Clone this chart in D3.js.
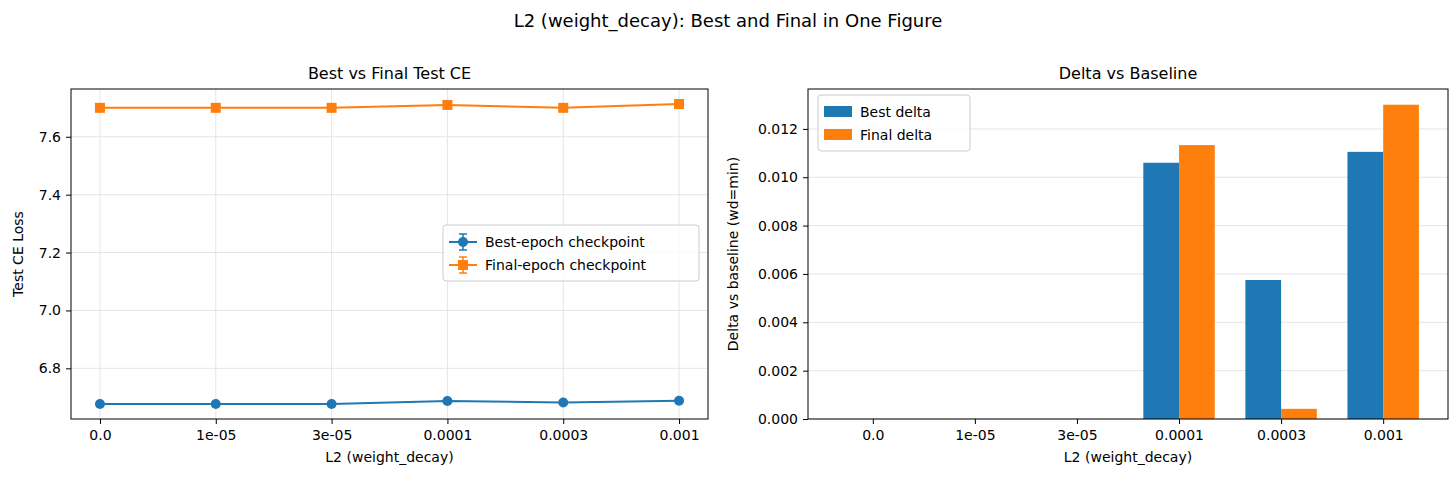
<!DOCTYPE html>
<html><head><meta charset="utf-8">
<script src="https://cdn.jsdelivr.net/npm/d3@7"></script>
<style>body{margin:0;background:#fff}text{font-family:"DejaVu Sans",sans-serif;fill:#000}</style>
</head><body>
<script>
const categories = ["0.0", "1e-05", "3e-05", "0.0001", "0.0003", "0.001"];
const bestCE = [6.677, 6.677, 6.677, 6.687, 6.682, 6.688];
const finalCE = [7.700, 7.700, 7.700, 7.710, 7.700, 7.713];
const ceErr = [0.004, 0.004, 0.004, 0.004, 0.004, 0.004];
const bestDelta = [0, 0, 0, 0.0106, 0.00575, 0.01105];
const finalDelta = [0, 0, 0, 0.01133, 0.00042, 0.0130];
const leftTicks = [6.8, 7.0, 7.2, 7.4, 7.6];
const rightTicks = [0, 0.002, 0.004, 0.006, 0.008, 0.010, 0.012];

const blue = "#1f77b4", orange = "#ff7f0e";
const W = 1456, H = 485;
const svg = d3.select("body").append("svg").attr("width", W).attr("height", H);

svg.append("text").attr("x", W / 2).attr("y", 27).attr("text-anchor", "middle")
  .attr("font-size", 18).text("L2 (weight_decay): Best and Final in One Figure");

function frame(g, x0, x1, y0, y1, title, ylabel, y, ticks, fmt) {
  g.append("g").selectAll("line").data(ticks).join("line")
    .attr("x1", x0).attr("x2", x1).attr("y1", d => y(d)).attr("y2", d => y(d))
    .attr("stroke", "#e5e5e5");
  const ay = g.append("g").attr("transform", `translate(${x0},0)`)
    .call(d3.axisLeft(y).tickValues(ticks).tickFormat(fmt).tickSize(5).tickPadding(5));
  ay.select(".domain").remove();
  ay.selectAll("text").attr("font-size", 14).attr("font-family", "DejaVu Sans");
  g.append("text").attr("x", (x0 + x1) / 2).attr("y", y0 - 10).attr("text-anchor", "middle")
    .attr("font-size", 16).text(title);
  g.append("text").attr("x", (x0 + x1) / 2).attr("y", y1 + 43).attr("text-anchor", "middle")
    .attr("font-size", 14).text("L2 (weight_decay)");
  g.append("text").attr("transform", `translate(${x0 - (ylabel.length > 20 ? 70 : 48)},${(y0 + y1) / 2}) rotate(-90)`)
    .attr("text-anchor", "middle").attr("font-size", 14).text(ylabel);
}
function xAxis(g, x, y1) {
  const ax = g.append("g").attr("transform", `translate(0,${y1})`)
    .call(d3.axisBottom(x).tickValues(d3.range(categories.length)).tickFormat(i => categories[i]).tickSize(5).tickPadding(6));
  ax.select(".domain").remove();
  ax.selectAll("text").attr("font-size", 14).attr("font-family", "DejaVu Sans");
}
function border(g, x0, x1, y0, y1) {
  g.append("rect").attr("x", x0).attr("y", y0).attr("width", x1 - x0).attr("height", y1 - y0)
    .attr("fill", "none").attr("stroke", "#000").attr("stroke-width", 1);
}

// left panel
{
  const x0 = 71, x1 = 708, y0 = 89, y1 = 419;
  const g = svg.append("g");
  const x = d3.scaleLinear().domain([-0.25, 5.25]).range([x0, x1]);
  const y = d3.scaleLinear().domain([6.625, 7.765]).range([y1, y0]);
  d3.range(categories.length).forEach(i => g.append("line").attr("x1", x(i)).attr("x2", x(i))
    .attr("y1", y0).attr("y2", y1).attr("stroke", "#e5e5e5"));
  frame(g, x0, x1, y0, y1, "Best vs Final Test CE", "Test CE Loss", y, leftTicks, d3.format(".1f"));
  xAxis(g, x, y1);
  [[bestCE, blue, "circle"], [finalCE, orange, "square"]].forEach(([vals, c, shape]) => {
    g.append("path").datum(vals).attr("fill", "none").attr("stroke", c).attr("stroke-width", 2)
      .attr("d", d3.line().x((d, i) => x(i)).y(d => y(d)));
    vals.forEach((v, i) => {
      const e = ceErr[i];
      g.append("line").attr("x1", x(i)).attr("x2", x(i)).attr("y1", y(v - e)).attr("y2", y(v + e)).attr("stroke", c).attr("stroke-width", 1.5);
      [v - e, v + e].forEach(t => g.append("line").attr("x1", x(i) - 4).attr("x2", x(i) + 4).attr("y1", y(t)).attr("y2", y(t)).attr("stroke", c).attr("stroke-width", 1.5));
      if (shape === "circle") g.append("circle").attr("cx", x(i)).attr("cy", y(v)).attr("r", 5).attr("fill", c);
      else g.append("rect").attr("x", x(i) - 5).attr("y", y(v) - 5).attr("width", 10).attr("height", 10).attr("fill", c);
    });
  });
  border(g, x0, x1, y0, y1);
  const lg = g.append("g").attr("transform", "translate(443,225)");
  lg.append("rect").attr("width", 256).attr("height", 56).attr("rx", 3).attr("fill", "#fff").attr("fill-opacity", 0.8).attr("stroke", "#ccc");
  [["Best-epoch checkpoint", blue, "circle"], ["Final-epoch checkpoint", orange, "square"]].forEach(([t, c, s], k) => {
    const cy = 17 + k * 23;
    lg.append("line").attr("x1", 6).attr("x2", 34).attr("y1", cy).attr("y2", cy).attr("stroke", c).attr("stroke-width", 2);
    lg.append("line").attr("x1", 20).attr("x2", 20).attr("y1", cy - 8).attr("y2", cy + 8).attr("stroke", c).attr("stroke-width", 1.5);
    [cy - 8, cy + 8].forEach(t2 => lg.append("line").attr("x1", 16).attr("x2", 24).attr("y1", t2).attr("y2", t2).attr("stroke", c).attr("stroke-width", 1.5));
    if (s === "circle") lg.append("circle").attr("cx", 20).attr("cy", cy).attr("r", 5).attr("fill", c);
    else lg.append("rect").attr("x", 15).attr("y", cy - 5).attr("width", 10).attr("height", 10).attr("fill", c);
    lg.append("text").attr("x", 42).attr("y", cy + 5).attr("font-size", 14).text(t);
  });
}

// right panel
{
  const x0 = 808, x1 = 1448, y0 = 89, y1 = 419;
  const g = svg.append("g");
  const x = d3.scaleLinear().domain([-0.635, 5.635]).range([x0, x1]);
  const y = d3.scaleLinear().domain([0, 0.01365]).range([y1, y0]);
  frame(g, x0, x1, y0, y1, "Delta vs Baseline", "Delta vs baseline (wd=min)", y, rightTicks, d3.format(".3f"));
  xAxis(g, x, y1);
  const bw = 0.35;
  [[bestDelta, blue, -bw], [finalDelta, orange, 0]].forEach(([vals, c, off]) => {
    g.append("g").selectAll("rect").data(vals).join("rect")
      .attr("x", (d, i) => x(i + off)).attr("width", x(bw) - x(0))
      .attr("y", d => y(d)).attr("height", d => y(0) - y(d)).attr("fill", c);
  });
  border(g, x0, x1, y0, y1);
  const lg = g.append("g").attr("transform", "translate(818,95)");
  lg.append("rect").attr("width", 152).attr("height", 56).attr("rx", 3).attr("fill", "#fff").attr("fill-opacity", 0.8).attr("stroke", "#ccc");
  [["Best delta", blue], ["Final delta", orange]].forEach(([t, c], k) => {
    const cy = 17 + k * 23;
    lg.append("rect").attr("x", 6).attr("y", cy - 6).attr("width", 28).attr("height", 11).attr("fill", c);
    lg.append("text").attr("x", 42).attr("y", cy + 5).attr("font-size", 14).text(t);
  });
}
</script>
</body></html>
